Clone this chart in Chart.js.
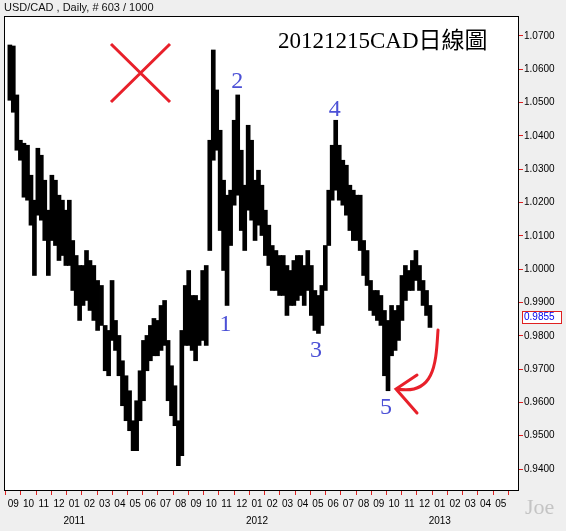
<!DOCTYPE html>
<html>
<head>
<meta charset="utf-8">
<script src="https://cdn.jsdelivr.net/npm/chart.js@4.4.0/dist/chart.umd.min.js"></script>
<style>
  html, body { margin: 0; padding: 0; background: #efefef; }
  canvas { display: block; }
</style>
</head>
<body>
<canvas id="cadChart" width="566" height="531"></canvas>
<script>
// USD/CAD daily chart, redrawn as weekly high/low ranges

// first week of the series (Monday), one entry per week after that
const firstWeek = '2010-08-23'

const weekHigh = [
  1.0673, 1.0670, 1.0523, 1.0387, 1.0378, 1.0372, 1.0282, 1.0207, 1.0363, 1.0342,
  1.0267, 1.0177, 1.0282, 1.0267, 1.0222, 1.0207, 1.0177, 1.0207, 1.0086, 1.0041,
  1.0011, 1.0011, 1.0056, 1.0026, 1.0011, 0.9966, 0.9951, 0.9831, 0.9816, 0.9966,
  0.9846, 0.9801, 0.9725, 0.9680, 0.9635, 0.9545, 0.9605, 0.9695, 0.9786, 0.9801,
  0.9831, 0.9852, 0.9846, 0.9891, 0.9906, 0.9786, 0.9710, 0.9650, 0.9545, 0.9816,
  0.9951, 0.9996, 0.9921, 0.9921, 0.9906, 0.9996, 1.0011, 1.0387, 1.0658, 1.0538,
  1.0417, 1.0267, 1.0222, 1.0237, 1.0447, 1.0523, 1.0357, 1.0252, 1.0432, 1.0387,
  1.0267, 1.0297, 1.0252, 1.0177, 1.0132, 1.0071, 1.0056, 1.0041, 1.0041, 1.0011,
  0.9996, 1.0026, 1.0041, 1.0041, 1.0011, 1.0056, 1.0011, 0.9936, 0.9921, 0.9951,
  1.0071, 1.0237, 1.0372, 1.0447, 1.0372, 1.0327, 1.0312, 1.0252, 1.0237, 1.0222,
  1.0222, 1.0086, 1.0056, 0.9966, 0.9936, 0.9936, 0.9921, 0.9876, 0.9846, 0.9891,
  0.9876, 0.9891, 0.9981, 1.0011, 0.9996, 1.0026, 1.0056, 1.0011, 0.9966, 0.9936,
  0.9891
]

const weekLow = [
  1.0507, 1.0471, 1.0357, 1.0327, 1.0216, 1.0207, 1.0132, 0.9981, 1.0162, 1.0147,
  1.0086, 0.9981, 1.0086, 1.0071, 1.0026, 1.0041, 1.0011, 1.0011, 0.9936, 0.9891,
  0.9846, 0.9891, 0.9906, 0.9876, 0.9846, 0.9816, 0.9831, 0.9695, 0.9680, 0.9786,
  0.9756, 0.9680, 0.9590, 0.9545, 0.9515, 0.9455, 0.9455, 0.9545, 0.9605, 0.9695,
  0.9725, 0.9740, 0.9740, 0.9756, 0.9771, 0.9605, 0.9560, 0.9530, 0.9410, 0.9440,
  0.9771, 0.9771, 0.9756, 0.9725, 0.9771, 0.9786, 0.9771, 1.0056, 1.0327, 1.0357,
  1.0116, 0.9996, 0.9891, 1.0071, 1.0192, 1.0222, 1.0116, 1.0056, 1.0177, 1.0147,
  1.0086, 1.0132, 1.0101, 1.0041, 1.0011, 0.9936, 0.9936, 0.9921, 0.9921, 0.9861,
  0.9891, 0.9891, 0.9906, 0.9921, 0.9891, 0.9936, 0.9861, 0.9816, 0.9807, 0.9831,
  0.9936, 1.0071, 1.0207, 1.0237, 1.0207, 1.0192, 1.0162, 1.0116, 1.0086, 1.0086,
  1.0056, 0.9981, 0.9951, 0.9876, 0.9861, 0.9846, 0.9831, 0.9680, 0.9635, 0.9740,
  0.9756, 0.9786, 0.9846, 0.9906, 0.9936, 0.9936, 0.9966, 0.9936, 0.9891, 0.9861,
  0.9825
]

const lastClose = 0.9855
const monthLabels = ['09','10','11','12','01','02','03','04','05','06','07','08',
                     '09','10','11','12','01','02','03','04','05','06','07','08',
                     '09','10','11','12','01','02','03','04','05']
const yearLabels = { 4: '2011', 16: '2012', 28: '2013' }

const waveMarks = [
  { text: '1', date: '2011-10-30', price: 0.9833 },
  { text: '2', date: '2011-11-22', price: 1.0563 },
  { text: '3', date: '2012-04-27', price: 0.9755 },
  { text: '4', date: '2012-06-04', price: 1.0480 },
  { text: '5', date: '2012-09-15', price: 0.9585 }
]

// month index counted from Sep 2010 (0 = start of Sep 2010)
function monthIndex(d) {
  const y = d.getUTCFullYear(), m = d.getUTCMonth()
  const days = new Date(Date.UTC(y, m + 1, 0)).getUTCDate()
  return (y - 2010) * 12 + m - 8 + (d.getUTCDate() - 1) / days
}

const start = new Date(firstWeek + 'T00:00:00Z')
const bars = weekHigh.map((hi, i) => {
  const mid = new Date(start.getTime() + (i * 7 + 2) * 86400000)
  return { x: monthIndex(mid), y: [weekLow[i], hi] }
})

const sansFont = "'Liberation Sans', Arial, sans-serif"
const serifFont = "'Liberation Serif', 'Times New Roman', serif"

const decorPlugin = {
  id: 'decor',
  beforeDraw(chart) {
    const { ctx, chartArea: a } = chart
    ctx.save()
    ctx.fillStyle = '#efefef'
    ctx.fillRect(0, 0, chart.width, chart.height)
    ctx.fillStyle = '#ffffff'
    ctx.fillRect(a.left, a.top, a.right - a.left, a.bottom - a.top)
    ctx.restore()
  },
  afterDraw(chart) {
    const { ctx, chartArea: a, scales } = chart
    const xs = scales.x, ys = scales.y
    ctx.save()

    // frame
    ctx.strokeStyle = '#000'
    ctx.lineWidth = 1
    ctx.strokeRect(a.left + 0.5, a.top + 0.5, a.right - a.left - 1, a.bottom - a.top - 1)

    // header
    ctx.fillStyle = '#111'
    ctx.font = '11px ' + sansFont
    ctx.textBaseline = 'middle'
    ctx.textAlign = 'left'
    ctx.fillText('USD/CAD , Daily, # 603 / 1000', 4, 8)

    // title
    ctx.fillStyle = '#000'
    ctx.font = "23px 'Liberation Serif', 'Noto Sans CJK TC', serif"
    ctx.textBaseline = 'alphabetic'
    ctx.fillText('20121215CAD日線圖', 278, 48)

    // red cross
    ctx.strokeStyle = '#e8202a'
    ctx.lineWidth = 3
    ctx.beginPath()
    ctx.moveTo(111, 44); ctx.lineTo(170, 102)
    ctx.moveTo(170, 44); ctx.lineTo(111, 102)
    ctx.stroke()

    // wave numbers
    ctx.fillStyle = '#4b50d6'
    ctx.font = '24px ' + serifFont
    ctx.textAlign = 'center'
    ctx.textBaseline = 'middle'
    waveMarks.forEach(w => {
      const px = xs.getPixelForValue(monthIndex(new Date(w.date + 'T00:00:00Z')))
      ctx.fillText(w.text, px, ys.getPixelForValue(w.price))
    })

    // red curved arrow
    ctx.strokeStyle = '#e8202a'
    ctx.lineWidth = 3
    ctx.lineCap = 'round'
    ctx.beginPath()
    ctx.moveTo(438, 330)
    ctx.bezierCurveTo(436, 360, 436, 396, 397, 389)
    ctx.stroke()
    ctx.beginPath()
    ctx.moveTo(417, 375); ctx.lineTo(396, 389); ctx.lineTo(417, 413)
    ctx.stroke()

    // last price box
    const py = Math.round(ys.getPixelForValue(lastClose))
    ctx.fillStyle = '#ffffff'
    ctx.fillRect(522, py - 6, 40, 12)
    ctx.strokeStyle = '#e02020'
    ctx.lineWidth = 1
    ctx.strokeRect(522.5, py - 5.5, 39, 12)
    ctx.fillStyle = '#0000ee'
    ctx.font = '10px ' + sansFont
    ctx.textAlign = 'left'
    ctx.textBaseline = 'middle'
    ctx.fillText(lastClose.toFixed(4), 524, py + 0.5)

    // watermark
    ctx.fillStyle = '#c4c4c4'
    ctx.font = '22px ' + serifFont
    ctx.textAlign = 'left'
    ctx.textBaseline = 'alphabetic'
    ctx.fillText('Joe', 525, 514)
    ctx.restore()
  }
}

// eslint-disable-next-line no-undef
new Chart(document.getElementById('cadChart').getContext('2d'), {
  type: 'bar',
  data: {
    datasets: [{
      label: 'USD/CAD',
      data: bars,
      backgroundColor: '#000',
      borderWidth: 0,
      barThickness: 4
    }]
  },
  plugins: [decorPlugin],
  options: {
    responsive: false,
    animation: false,
    events: [],
    layout: { padding: { top: 16, left: 4, right: 0, bottom: 0 } },
    plugins: { legend: { display: false }, tooltip: { enabled: false } },
    scales: {
      x: {
        type: 'linear',
        min: -0.61,
        max: 33.2,
        offset: false,
        afterFit: s => { s.height = 40 },
        afterBuildTicks: s => {
          s.ticks = monthLabels.map((_, i) => ({ value: i }))
        },
        grid: { display: true, drawOnChartArea: false, color: '#e02020', tickColor: '#e02020', tickLength: 4, lineWidth: 1 },
        border: { display: false },
        ticks: {
          autoSkip: false,
          maxRotation: 0,
          padding: 1,
          color: '#000',
          font: { family: sansFont, size: 10, lineHeight: 1.7 },
          callback: v => yearLabels[v] ? [monthLabels[v], yearLabels[v]] : monthLabels[v]
        }
      },
      y: {
        position: 'right',
        min: 0.9334,
        max: 1.076,
        afterFit: s => { s.width = 47 },
        grid: { display: true, drawOnChartArea: false, color: '#e02020', tickColor: '#e02020', tickLength: 4, lineWidth: 1 },
        border: { display: false },
        ticks: {
          stepSize: 0.01,
          includeBounds: false,
          padding: 1,
          color: '#000',
          font: { family: sansFont, size: 10 },
          callback: v => Number(v).toFixed(4)
        }
      }
    }
  }
})
</script>
</body>
</html>
